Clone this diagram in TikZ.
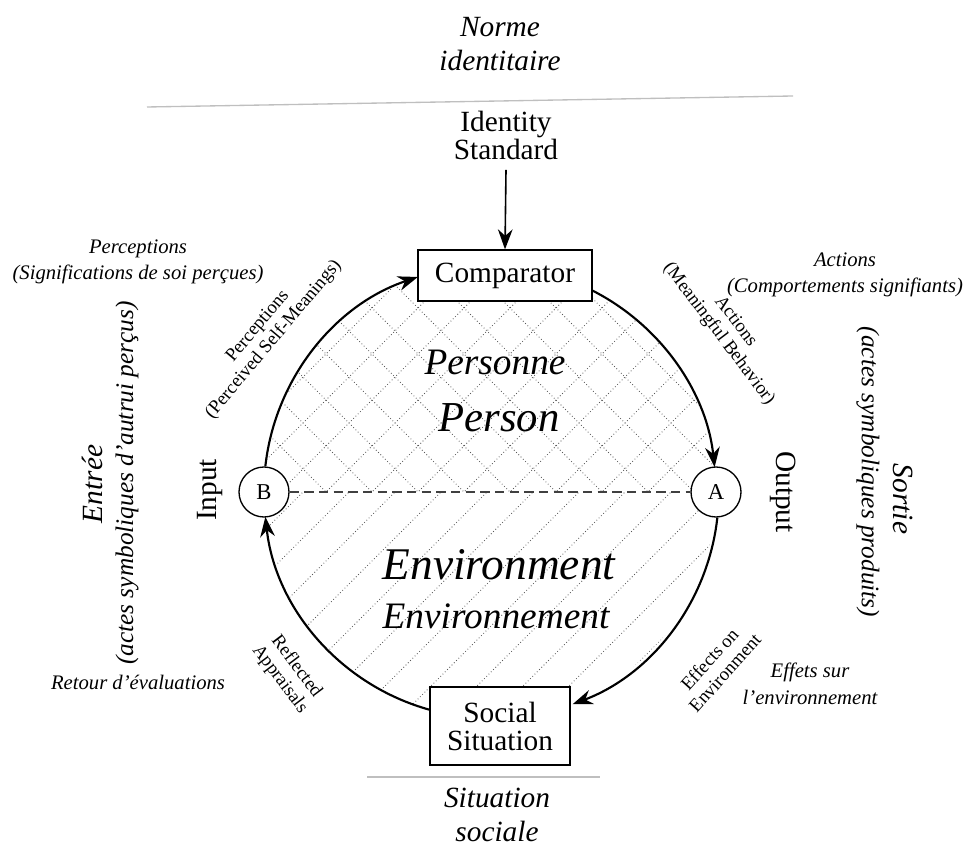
\documentclass[tikz,border=0pt]{standalone}
\usepackage{fontspec}
\setmainfont{Liberation Serif}
\usetikzlibrary{arrows.meta}

\begin{document}
\begin{tikzpicture}[x=0.75pt, y=0.75pt,
	big/.style={font=\itshape\fontsize{22}{25.5}\selectfont, align=center},
	sub/.style={font=\itshape\fontsize{19}{22}\selectfont},
	side/.style={font=\itshape\fontsize{15.5}{20}\selectfont, align=center},
	loop/.style={font=\fontsize{14}{15.5}\selectfont, align=center, inner sep=0pt},
	io/.style={font=\fontsize{22}{22}\selectfont},
	box/.style={draw, line width=1.2pt, fill=white, align=center, font=\fontsize{22}{21}\selectfont},
	ring/.style={draw, circle, line width=1pt, fill=white, minimum size=37.5pt, inner sep=0pt, font=\fontsize{17}{17}\selectfont},
	flow/.style={line width=1.6pt, -{Stealth[length=15pt, width=11pt]}},
	hatch/.style={black!65, line width=0.6pt, dash pattern=on 0.6pt off 1.8pt},
	scan/.style={black!25, line width=1pt}]
	\useasboundingbox (0,0) rectangle (967,850);

	% Define centre of the loop
	\coordinate (Ctr) at (490,358);

	% Person half: cross hatching
	\begin{scope}
		\clip (Ctr) ++(0:226) arc[start angle=0, end angle=180, radius=226] -- cycle;
		\foreach \k in {-11,...,11} {
			\pgfmathsetmacro{\xk}{510+46*\k}
			\draw[hatch] (\xk-300,58) -- (\xk+300,658);
			\draw[hatch] (\xk-300,658) -- (\xk+300,58);
		}
	\end{scope}

	% Environment half: single hatching
	\begin{scope}
		\clip (Ctr) ++(180:226) arc[start angle=180, end angle=360, radius=226] -- cycle;
		\foreach \k in {-11,...,11} {
			\pgfmathsetmacro{\xk}{487+46*\k}
			\draw[hatch] (\xk-300,58) -- (\xk+300,658);
		}
	\end{scope}

	% Define standard and comparator
	\node[big] (Norme) at (500,806) {Norme\\identitaire};
	\draw[scan] (147,743) -- (793,754);
	\node[box, draw=none, fill=none] (Identity) at (506,715) {Identity\\Standard};
	\node[box, minimum width=130.5pt, minimum height=38pt] (Comparator) at (505,574.5) {Comparator};
	\draw[flow, line width=1.2pt] ([yshift=-4pt]Identity.south) -- (Comparator.north);

	% Define social situation
	\node[box, minimum width=105pt, minimum height=58.5pt] (Social) at (500,124) {Social\\Situation};
	\draw[scan] (367,73) -- (600,73);
	\node[big] (Situation) at (497,35) {Situation\\sociale};

	% Define input B and output A
	\node[ring] (NodeB) at (264,358) {B};
	\node[ring] (NodeA) at (716,358) {A};
	\draw[black!75, line width=0.9pt, dash pattern=on 7pt off 4pt] (NodeB.east) -- (NodeA.west);
	\node[io, rotate=90] (Input) at (210,360) {Input};
	\node[io, rotate=-90] (Output) at (783,358) {Output};

	% Loop arcs
	\draw[flow] (NodeB.87) arc[start angle=173.7, end angle=108.6, radius=226];
	\draw[flow] ([shift={(63.2:226)}]Ctr) arc[start angle=63.2, end angle=6.3, radius=226];
	\draw[flow] (NodeA.-87) arc[start angle=-6.3, end angle=-69.3, radius=226];
	\draw[flow] ([shift={(-105.4:226)}]Ctr) arc[start angle=-105.4, end angle=-173.7, radius=226];

	% Labels along the loop
	\node[loop, rotate=50] (Perc) at (266,517) {Perceptions\\(Perceived Self-Meanings)};
	\node[loop, rotate=-53] (Act) at (727,522) {Actions\\(Meaningful Behavior)};
	\node[loop, rotate=-53] (Refl) at (288,177) {Reflected\\Appraisals};
	\node[loop, rotate=48] (Eff) at (717,184) {Effects on\\Environment};

	% French labels
	\node[side] (PercFr) at (138,588) {Perceptions\\(Significations de soi perçues)};
	\node[side] (ActFr) at (845,575) {Actions\\(Comportements signifiants)};
	\node[side] (ReflFr) at (138,168) {Retour d’évaluations};
	\node[side] (EffFr) at (810,166) {Effets sur\\l’environnement};
	\node[big, rotate=90] (Entree) at (92,366) {Entrée};
	\node[sub, rotate=90] (EntreeSub) at (127,367) {(actes symboliques d’autrui perçus)};
	\node[big, rotate=-90] (Sortie) at (903,351) {Sortie};
	\node[sub, rotate=-90] (SortieSub) at (868,378) {(actes symboliques produits)};

	% Halves
	\node[font=\itshape\fontsize{28}{28}\selectfont] (Personne) at (495,488) {Personne};
	\node[font=\itshape\fontsize{32}{32}\selectfont] (Person) at (499,432) {Person};
	\node[font=\itshape\fontsize{34}{34}\selectfont] (Env) at (499,285) {Environment};
	\node[font=\itshape\fontsize{28}{28}\selectfont] (Envfr) at (496,234) {Environnement};
\end{tikzpicture}
\end{document}
